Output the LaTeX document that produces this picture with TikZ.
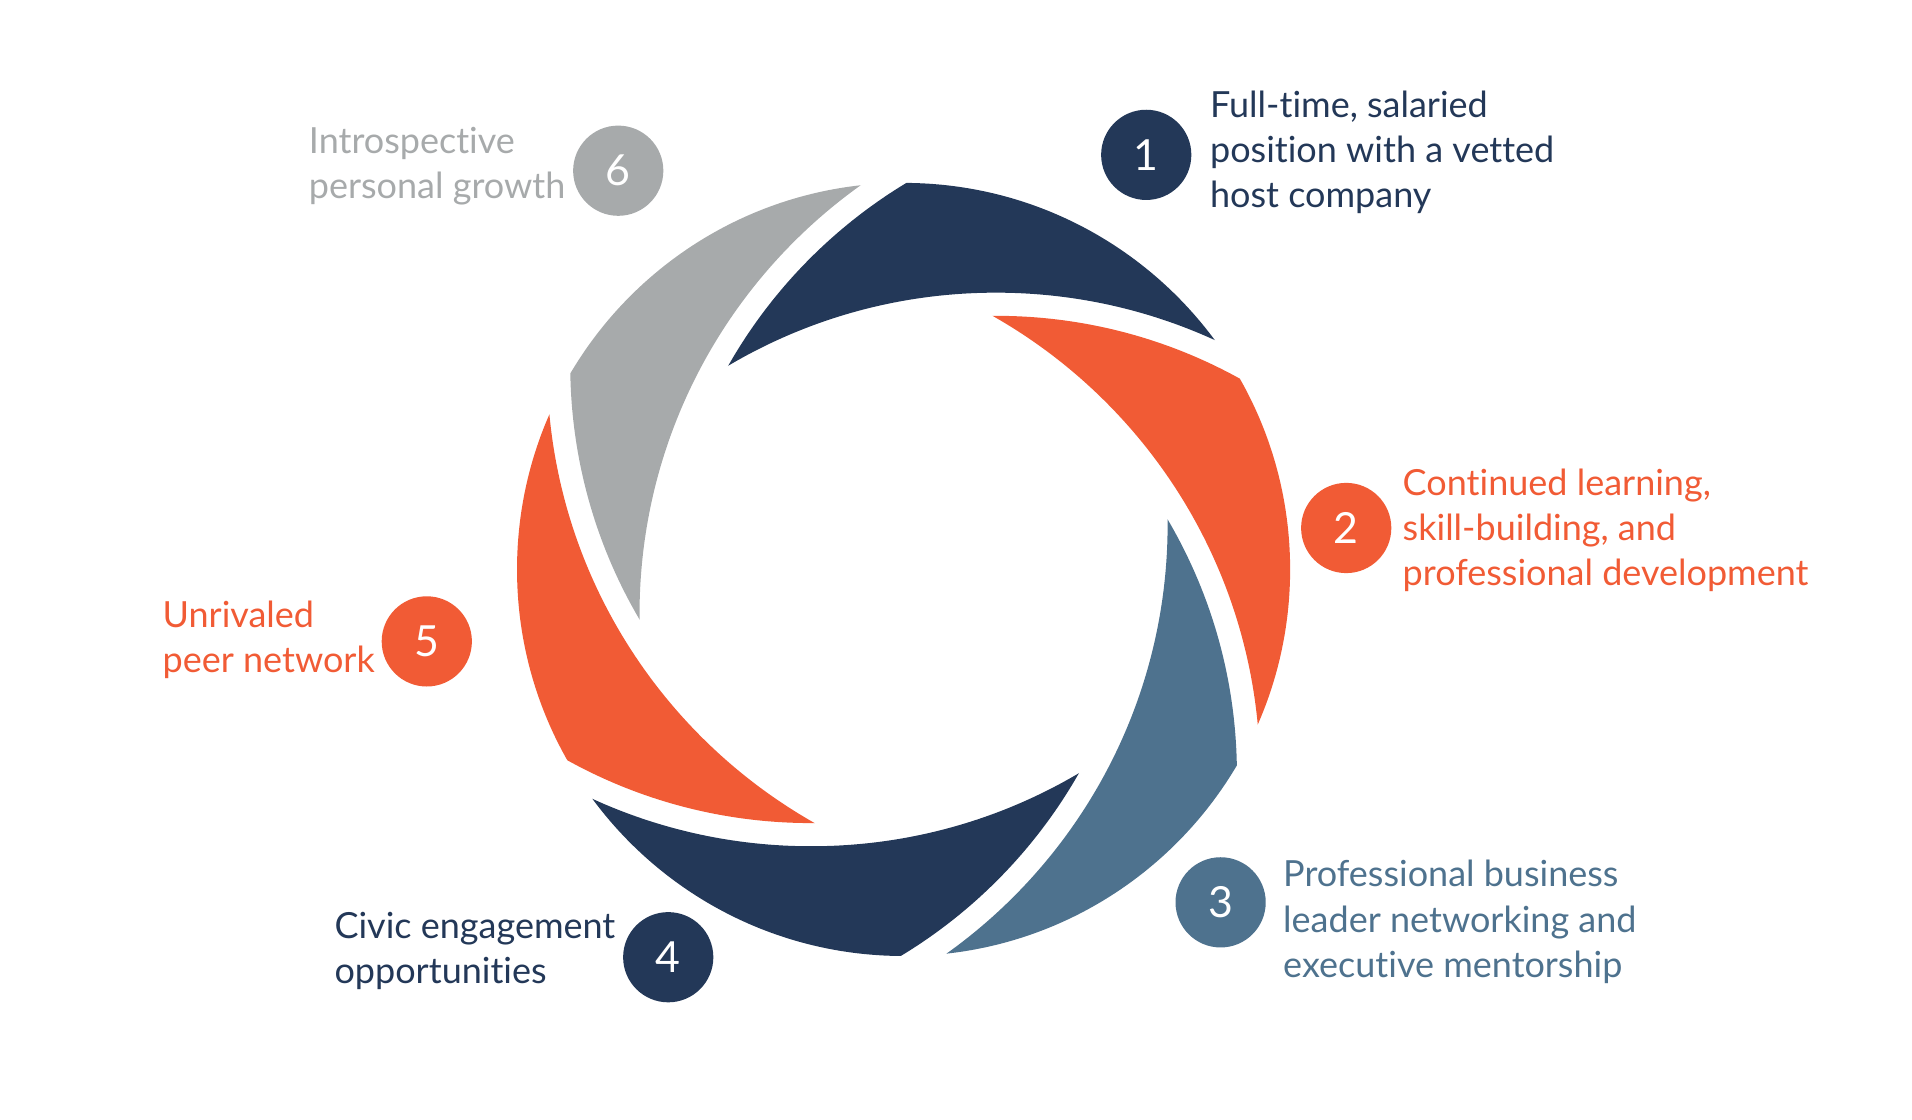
\documentclass[tikz,border=0pt]{standalone}
\usepackage{fontspec}
\setmainfont{Lato}[Ligatures={NoCommon}]
\usetikzlibrary{calc}
\definecolor{navy}{HTML}{233858}
\definecolor{orng}{HTML}{F15B35}
\definecolor{steel}{HTML}{4E728E}
\definecolor{gry}{HTML}{A7AAAB}
\tikzset{
  numc/.style={circle, minimum size=1.48cm, inner sep=0, text=white, font=\fontsize{20}{21}\selectfont},
  lab/.style={anchor=west, align=left, inner sep=0, font=\fontsize{16.8}{21.1}\selectfont}
}
\begin{document}
\begin{tikzpicture}[x=0.02cm,y=0.02cm]
\useasboundingbox (0,0) rectangle (1568,-918);
\coordinate (O) at (741,-467);
\foreach \k/\col in {1/navy,2/orng,3/steel,4/navy,5/orng,6/gry}{
  \pgfmathsetmacro\A{88.7-60*(\k-1)}
  \pgfmathsetmacro\Ap{\A+60}
  \begin{scope}
    \clip (O) circle (317);
    \clip ($(O)+(\Ap-158.4:218.6)$) circle (413);
    \fill[\col, even odd rule] ($(O)+(-400,-400)$) rectangle ($(O)+(400,400)$) ($(O)+(\A-158.4:218.6)$) circle (432);
  \end{scope}
}
\node[numc, fill=navy] (n1) at (940,-127) {1};
\node[numc, fill=orng] (n2) at (1104,-433) {2};
\node[numc, fill=steel] (n3) at (1001,-740) {3};
\node[numc, fill=navy] (n4) at (548,-785) {4};
\node[numc, fill=orng] (n5) at (350,-526) {5};
\node[numc, fill=gry] (n6) at (507,-140) {6};
\node[lab, text=navy] (t1) at (992,-125) {Full-time, salaried\\position with a vetted\\host company};
\node[lab, text=orng] (t2) at (1150,-435) {Continued learning,\\skill-building, and\\professional development};
\node[lab, text=steel] (t3) at (1052,-756) {Professional business\\leader networking and\\executive mentorship};
\node[lab, text=navy] (t4) at (274,-780) {Civic engagement\\opportunities};
\node[lab, text=orng] (t5) at (133,-525) {Unrivaled\\peer network};
\node[lab, text=gry] (t6) at (253,-136) {Introspective\\personal growth};
\end{tikzpicture}
\end{document}
